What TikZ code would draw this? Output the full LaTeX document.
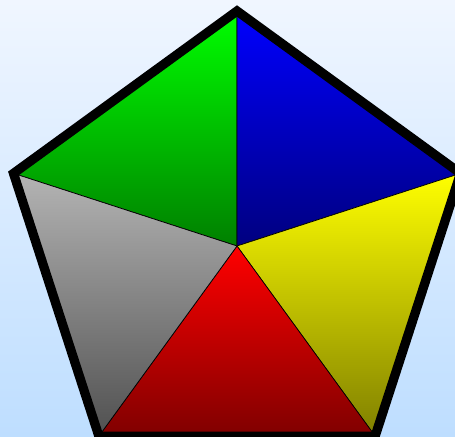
\documentclass[tikz,border=0pt]{standalone}
\usepackage{tikz}
\usetikzlibrary{calc}
\definecolor{skytop}{RGB}{240,246,255}
\definecolor{skybottom}{RGB}{190,222,255}
\definecolor{greytop}{RGB}{180,180,180}
\definecolor{greybottom}{RGB}{80,80,80}

\begin{document}
\begin{tikzpicture}[x=0.02cm, y=-0.02cm,
  wedge/.style={draw=black, line width=0.4pt, line join=round},
  rim/.style={draw=black, line width=0.185cm, line join=miter}]
  \useasboundingbox (0,0) rectangle (455,436);
  \clip (0,0) rectangle (455,436);
  \fill[top color=skytop, bottom color=skybottom] (0,0) rectangle (455,436);
  % centre and corners of the pentagon
  \coordinate (c) at (237,246);
  \foreach \i/\a in {1/-90,2/-18,3/54,4/126,5/198}{ \coordinate (p\i) at ($(c)+(\a:235)$); }
  % the five wedges
  \path[wedge, top color=green, bottom color=green!50!black] (c) -- (p5) -- (p1) -- cycle;
  \path[wedge, top color=blue, bottom color=blue!50!black] (c) -- (p1) -- (p2) -- cycle;
  \path[wedge, top color=yellow, bottom color=yellow!50!black] (c) -- (p2) -- (p3) -- cycle;
  \path[wedge, top color=red, bottom color=red!50!black] (c) -- (p3) -- (p4) -- cycle;
  \path[wedge, top color=greytop, bottom color=greybottom] (c) -- (p4) -- (p5) -- cycle;
  \draw[rim] (p1) -- (p2) -- (p3) -- (p4) -- (p5) -- cycle;
\end{tikzpicture}
\end{document}
